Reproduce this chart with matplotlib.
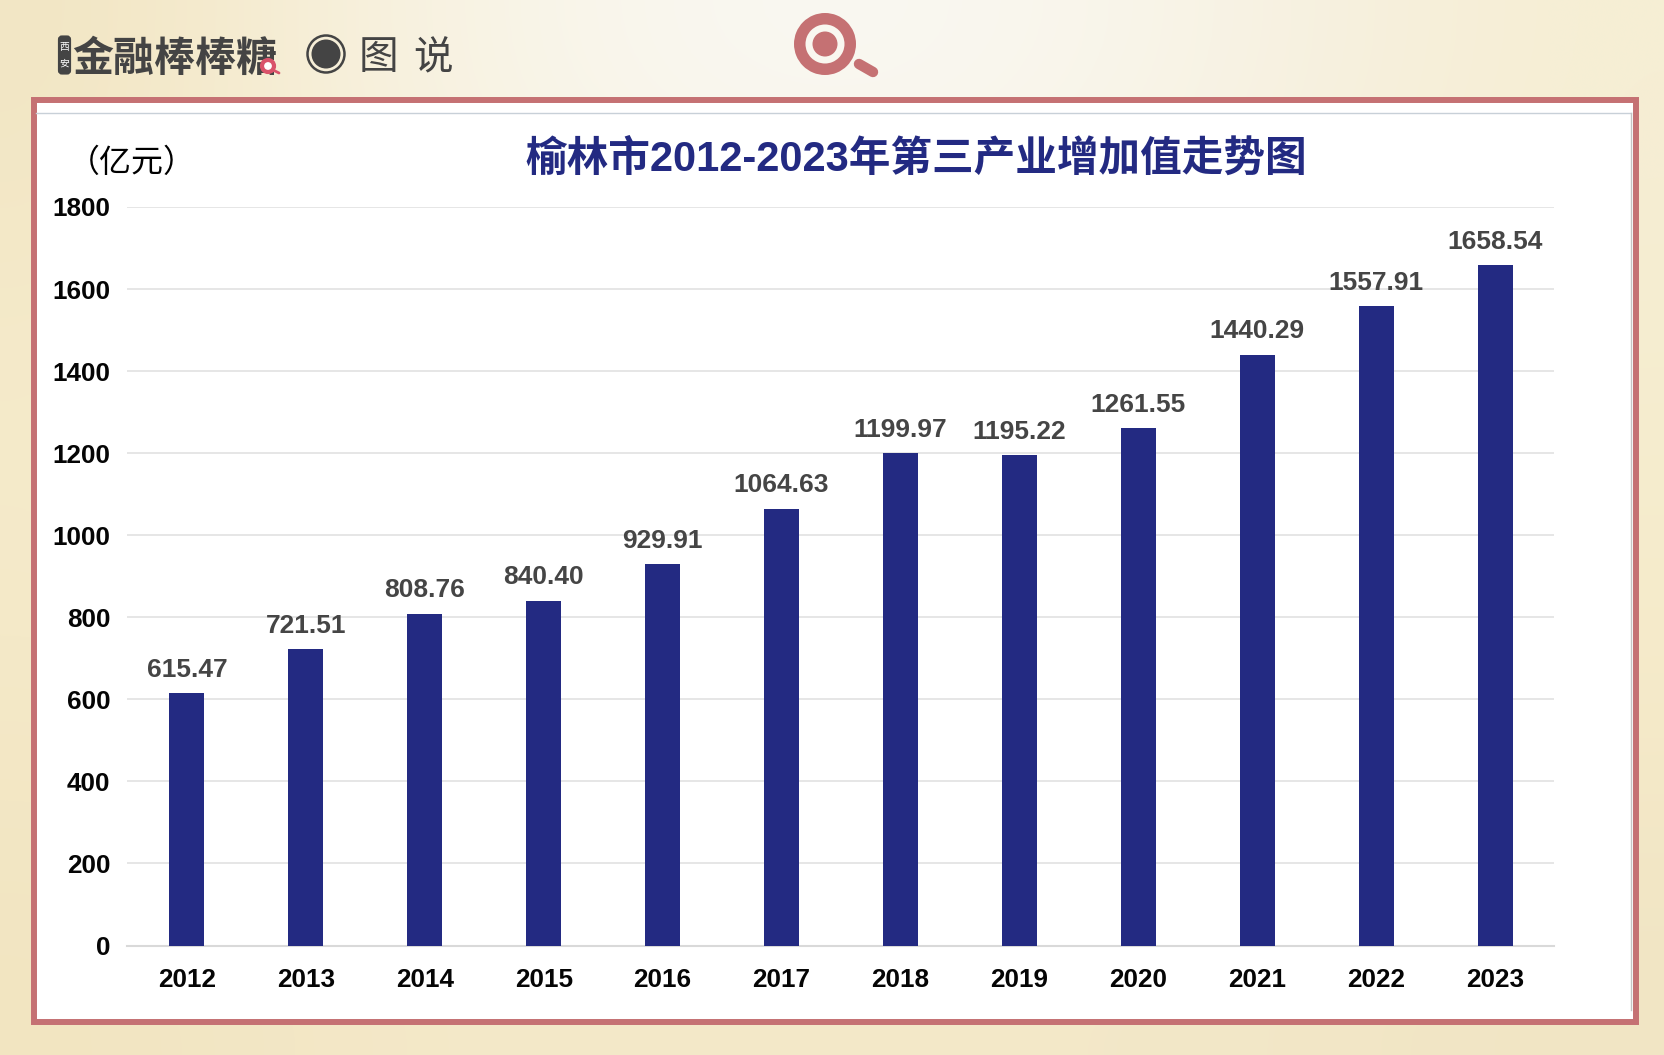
import numpy as np
import matplotlib
matplotlib.use("Agg")
import matplotlib.pyplot as plt
from matplotlib.patches import Rectangle, Circle, FancyBboxPatch, Wedge
from matplotlib.colors import to_rgb

years = ['2012','2013','2014','2015','2016','2017','2018','2019','2020','2021','2022','2023']
values = [615.47,721.51,808.76,840.40,929.91,1064.63,1199.97,1195.22,1261.55,1440.29,1557.91,1658.54]
yticks = [0,200,400,600,800,1000,1200,1400,1600,1800]
title = '榆林市2012-2023年第三产业增加值走势图'
unit = '（亿元）'

W, H = 1665, 1055
NAVY = '#232a82'
ROSE = '#c57173'
DARK = '#444444'
FONT = ['Liberation Sans', 'Noto Sans CJK SC', 'DejaVu Sans']
CJK = ['Noto Sans CJK SC', 'DejaVu Sans']

fig = plt.figure(figsize=(W/100, H/100), dpi=100)

# paper background and furniture, in pixel coordinates
bg = fig.add_axes([0, 0, 1, 1], zorder=0)
bg.set_xlim(0, W); bg.set_ylim(H, 0); bg.axis('off')
paper = [
    ['#f2e6c4', '#f7efd8', '#f9f5e9', '#faf8f2', '#faf8f2', '#f9f5ea', '#f6f0de', '#f6eed4'],
    ['#f5ebcb', '#f6edd2', '#f6eed6', '#f6eed6', '#f6eed6', '#f6eed6', '#f6edd2', '#f6edcf'],
    ['#f4e9c8', '#f5ebcd', '#f5ebcd', '#f5ebcd', '#f5ebcd', '#f5ebcd', '#f5ebcd', '#f6ebca'],
    ['#f2e5c1', '#f3e7c6', '#f4e9c9', '#f3e8c8', '#f3e8c8', '#f3e8c8', '#f2e6c6', '#f1e5c4'],
]
arr = np.array([[to_rgb(c) for c in row] for row in paper])
bg.imshow(arr, extent=(0, W, H, 0), aspect='auto', interpolation='bicubic', zorder=0)
bg.set_xlim(0, W); bg.set_ylim(H, 0)

bg.add_patch(Rectangle((34, 100), 1602, 922, fc='white', ec=ROSE, lw=4.3, zorder=1))
bg.plot([36, 1631], [112.5, 112.5], color='#c8d0d8', lw=1.0, zorder=2)
bg.plot([1631, 1631], [112.5, 1010], color='#c4c4c4', lw=1.0, zorder=2)

# header logo
bg.add_patch(FancyBboxPatch((60, 37.5), 9, 35, boxstyle='round,pad=0,rounding_size=2',
                            mutation_aspect=1, fc=DARK, ec=DARK, lw=3, zorder=2))
bg.text(64.5, 47, '西', color='white', fontsize=7, family=CJK, ha='center', va='center', zorder=3)
bg.text(64.5, 64, '安', color='white', fontsize=7, family=CJK, ha='center', va='center', zorder=3)
bg.text(72, 58.5, '金融棒棒糖', color=DARK, fontsize=29.5, family=CJK, weight='bold',
        ha='left', va='center', zorder=3)
bg.add_patch(Circle((268, 66), 6, fc='white', ec='#d9536a', lw=3, zorder=4))
bg.plot([273, 279], [70, 73], color='#d9536a', lw=2, solid_capstyle='round', zorder=4)
bg.add_patch(Circle((326, 54), 18.5, fc='none', ec=DARK, lw=1.8, zorder=3))
bg.add_patch(Circle((326, 54), 14.5, fc=DARK, ec='none', zorder=3))
bg.text(378, 58, '图', color=DARK, fontsize=28.5, family=CJK, weight='medium', ha='center', va='center', zorder=3)
bg.text(433, 58, '说', color=DARK, fontsize=28.5, family=CJK, weight='medium', ha='center', va='center', zorder=3)

# magnifier
bg.add_patch(Wedge((825, 44), 31, 0, 360, width=11.5, fc=ROSE, ec='none', zorder=3))
bg.add_patch(Circle((825, 44), 12.5, fc=ROSE, ec='none', zorder=3))
bg.plot([859, 873], [64, 72], color=ROSE, lw=7.5, solid_capstyle='round', zorder=3)

bg.text(132, 163, unit, color='black', fontsize=23, family=CJK, ha='center', va='center', zorder=3)
bg.text(916, 160, title, color=NAVY, fontsize=30, family=FONT, weight='bold',
        ha='center', va='center', zorder=3)

# chart
left, right, top, base = 127.5, 1554.5, 207, 945.5
ax = fig.add_axes([left/W, 1-base/H, (right-left)/W, (base-top)/H], zorder=2)
ax.patch.set_alpha(0)
x = np.arange(len(years))
ax.bar(x, values, width=35/119, color=NAVY, zorder=3)
ax.set_xlim(-0.5, len(years)-0.5)
ax.set_ylim(0, 1800)
ax.set_xticks(x, years)
ax.set_yticks(yticks)
ax.yaxis.grid(True, color='#e4e4e4', lw=1.3, zorder=1)
ax.set_axisbelow(True)
for s in ['top', 'right', 'left']:
    ax.spines[s].set_visible(False)
ax.spines['bottom'].set_color('#d9d9d9')
ax.spines['bottom'].set_linewidth(1.5)
ax.tick_params(axis='both', length=0)
ax.tick_params(axis='x', pad=16)
ax.tick_params(axis='y', pad=12.5)
for lab in ax.get_xticklabels() + ax.get_yticklabels():
    lab.set_family(FONT); lab.set_weight('bold'); lab.set_fontsize(18.8); lab.set_color('#050505')
for xi, v in zip(x, values):
    ax.annotate(f'{v:.2f}', (xi, v), xytext=(0, 11.7), textcoords='offset points',
                ha='center', va='baseline', fontsize=19, family=FONT, weight='bold',
                color='#454545', zorder=4, annotation_clip=False)

fig.savefig('out.png', dpi=100)
